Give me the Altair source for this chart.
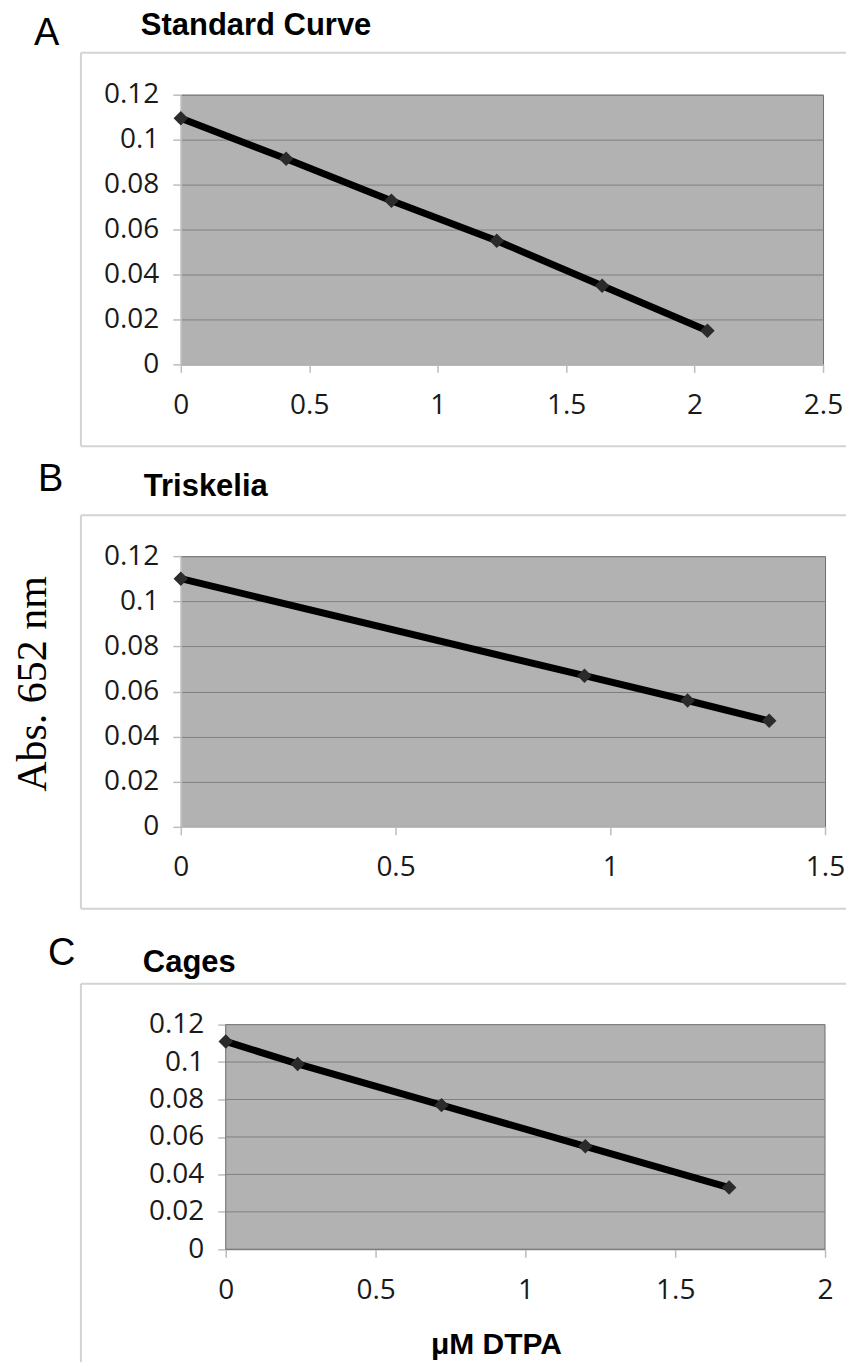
import altair as alt
import pandas as pd

# ---------------- data ----------------
std_x = [0, 0.41, 0.82, 1.23, 1.64, 2.05]
std_y = [0.1095, 0.0915, 0.0728, 0.0550, 0.0350, 0.0150]

tri_x = [0, 0.94, 1.18, 1.37]
tri_y = [0.110, 0.067, 0.056, 0.047]

cage_x = [0, 0.24, 0.72, 1.20, 1.68]
cage_y = [0.111, 0.099, 0.077, 0.055, 0.033]

y_ticks = [0, 0.02, 0.04, 0.06, 0.08, 0.10, 0.12]
std_xticks = [0, 0.5, 1, 1.5, 2, 2.5]
tri_xticks = [0, 0.5, 1, 1.5]
cage_xticks = [0, 0.5, 1, 1.5, 2]

panel_letters = ["A", "B", "C"]
panel_titles = ["Standard Curve", "Triskelia", "Cages"]
y_title = "Abs. 652 nm"
x_title = "μM DTPA"

# ---------------- styles ----------------
TICK_FONT = "Open Sans"
TICK_SIZE = 28
HEAD_FONT = "Liberation Sans"
PLOT_FILL = "#b2b2b2"
PLOT_EDGE = "#6e6e6e"
GRID = "#7f7f7f"
AXIS_LIGHT = "#bdbdbd"
BOX = "#d3d3d3"

one = alt.Data(values=[{"k": 0}])


def text(t, x, y, size, weight="normal", font=HEAD_FONT, angle=0,
         align="left", baseline="alphabetic"):
    return alt.Chart(one).mark_text(
        text=t, font=font, fontSize=size, fontWeight=weight, angle=angle,
        align=align, baseline=baseline, color="#000000"
    ).encode(x=alt.value(x), y=alt.value(y))


def rule(x, x2, y, y2, color=BOX, width=2, opacity=1.0):
    return alt.Chart(one).mark_rule(
        color=color, strokeWidth=width, opacity=opacity
    ).encode(x=alt.value(x), x2=alt.value(x2), y=alt.value(y), y2=alt.value(y2))


def x_axis(ticks):
    return alt.Axis(values=ticks, format=".3~g", title=None, grid=False,
                    domainColor=AXIS_LIGHT, domainWidth=1.5,
                    tickColor=AXIS_LIGHT, tickWidth=1.5, tickSize=8,
                    labelPadding=19, labelFont=TICK_FONT,
                    labelFontSize=TICK_SIZE, labelColor="#1a1a1a",
                    labelFlush=False, labelOverlap=False)


def y_axis(grid=True, offset=0):
    return alt.Axis(values=y_ticks, format=".3~g", title=None, grid=grid,
                    gridColor=GRID, gridWidth=1, offset=offset,
                    domainColor=AXIS_LIGHT, domainWidth=1.5,
                    tickColor=AXIS_LIGHT, tickWidth=1.5, tickSize=8,
                    labelPadding=14, labelFont=TICK_FONT,
                    labelFontSize=TICK_SIZE, labelColor="#1a1a1a",
                    labelFlush=False, labelOverlap=False)


def series(xs, ys, xdomain, xticks, xrange=None, grid=True, offset=0):
    df = pd.DataFrame({"x": xs, "y": ys})
    if xrange is None:
        xs_scale = alt.Scale(domain=xdomain, nice=False, zero=False)
    else:
        xs_scale = alt.Scale(domain=xdomain, nice=False, zero=False, range=xrange)
    base = alt.Chart(df).encode(
        x=alt.X("x:Q", scale=xs_scale, axis=x_axis(xticks)),
        y=alt.Y("y:Q", scale=alt.Scale(domain=[0, 0.12], nice=False),
                axis=y_axis(grid, offset)),
    )
    line = base.mark_line(color="#000000", strokeWidth=7)
    pts = base.mark_point(shape="diamond", filled=True, size=210,
                          color="#2b2b2b", opacity=1)
    return line, pts


view_on = alt.ViewBackground(fill=PLOT_FILL, stroke=PLOT_EDGE, strokeWidth=1)
view_off = alt.ViewBackground(fillOpacity=0, strokeOpacity=0)

# ---------------- panel A ----------------
wA, hA = 643, 270
lineA, ptsA = series(std_x, std_y, [0, 2.5], std_xticks)
panelA = alt.layer(
    rule(-172, 666, -85, 365, color="#ffffff", width=0, opacity=0),
    rule(-100, 666, -42, -42),
    rule(-100, -100, -42, 352),
    rule(-100, 666, 352, 352),
    lineA, ptsA,
    text(panel_letters[0], -147, -50, 38),
    text(panel_titles[0], -40, -60, 31, weight="bold"),
).properties(width=wA, height=hA, view=view_on)

# ---------------- panel B ----------------
wB, hB = 645, 271
lineB, ptsB = series(tri_x, tri_y, [0, 1.5], tri_xticks)
panelB = alt.layer(
    rule(-172, 666, -94, 378, color="#ffffff", width=0, opacity=0),
    rule(-100, 666, -41, -41),
    rule(-100, -100, -41, 353),
    rule(-100, 666, 353, 353),
    lineB, ptsB,
    text(panel_letters[1], -143, -65, 38),
    text(panel_titles[1], -37, -60, 31, weight="bold"),
    text(y_title, -135, 128, 42, font="Liberation Serif", angle=270,
         align="center"),
).properties(width=wB, height=hB, view=view_on)

# ---------------- panel C ----------------
wC, hC = 645, 225
lineC, ptsC = series(cage_x, cage_y, [0, 2], cage_xticks, xrange=[45, 645],
                     grid=False, offset=-45)
gridC = alt.Chart(pd.DataFrame({"y": y_ticks})).mark_rule(
    color=GRID, strokeWidth=1
).encode(
    y=alt.Y("y:Q", scale=alt.Scale(domain=[0, 0.12], nice=False),
            axis=y_axis(False, -45)),
    x=alt.value(45), x2=alt.value(645),
)
bgC = alt.Chart(one).mark_rect(
    fill=PLOT_FILL, stroke=PLOT_EDGE, strokeWidth=1
).encode(x=alt.value(45), x2=alt.value(645), y=alt.value(0), y2=alt.value(hC))

panelC = alt.layer(
    rule(-172, 666, -88, 338, color="#ffffff", width=0, opacity=0),
    rule(-100, 666, -41, -41),
    rule(-100, -100, -41, 338),
    bgC, gridC,
    lineC, ptsC,
    text(panel_letters[2], -133, -60, 38),
    text(panel_titles[2], -38, -53, 31, weight="bold"),
    text(x_title, 316, 330, 30, weight="bold", align="center"),
).properties(width=wC, height=hC, view=view_off)

chart = alt.vconcat(panelA, panelB, panelC, spacing=0).properties(
    padding=0, background="#ffffff"
)

chart.save("out.html", embed_options={"renderer": "svg", "actions": False})
